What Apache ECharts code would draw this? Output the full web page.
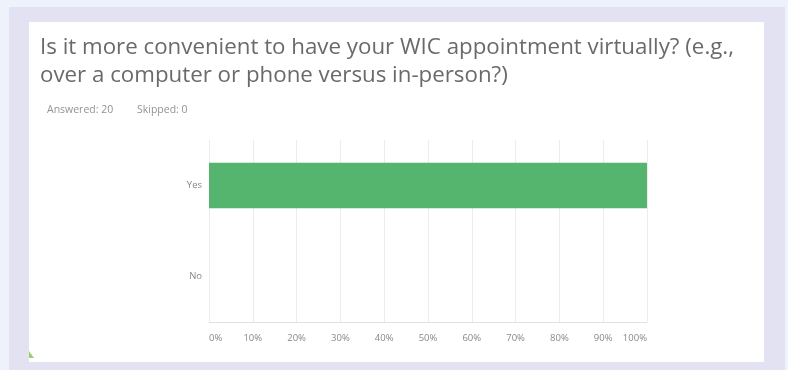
<!DOCTYPE html>
<html><head><meta charset="utf-8">
<script src="https://cdn.jsdelivr.net/npm/echarts@6/dist/echarts.min.js"></script>
<style>html,body{margin:0;padding:0;}#c{width:788px;height:370px;}</style>
</head><body><div id="c"></div>
<script>
const titleText = "Is it more convenient to have your WIC appointment virtually? (e.g.,\nover a computer or phone versus in-person?)";
const answeredText = "Answered: 20";
const skippedText = "Skipped: 0";
const categories = ["Yes", "No"];
const values = [100, 0];
const xTicks = [0, 10, 20, 30, 40, 50, 60, 70, 80, 90, 100];

const chart = echarts.init(document.getElementById('c'), null, {renderer: 'canvas'});
chart.setOption({
  backgroundColor: '#eef2fb',
  animation: false,
  graphic: [
    {type: 'rect', z: -10, shape: {x: 9, y: 7, width: 776, height: 370}, style: {fill: '#e3e2f3'}},
    {type: 'rect', z: -9, shape: {x: 29, y: 22, width: 735, height: 340}, style: {fill: '#ffffff'}},
    {type: 'polygon', z: -8, shape: {points: [[29, 351], [29, 358], [34, 358]]}, style: {fill: '#9ccf6a'}}
  ],
  title: [
    {text: titleText, left: 35, top: 29,
     textStyle: {fontFamily: 'Open Sans', fontSize: 22.3, fontWeight: 'normal', color: '#6a6a6a', lineHeight: 28}},
    {text: answeredText, left: 42, top: 100,
     textStyle: {fontFamily: 'Open Sans', fontSize: 10.5, fontWeight: 'normal', color: '#939393'}},
    {text: skippedText, left: 132, top: 100,
     textStyle: {fontFamily: 'Open Sans', fontSize: 10.5, fontWeight: 'normal', color: '#939393'}}
  ],
  grid: {left: 209, right: 141, top: 140, bottom: 48, containLabel: false},
  xAxis: {
    type: 'value', min: 0, max: 100, interval: 10,
    axisLine: {show: true, lineStyle: {color: '#e2e2e2'}},
    axisTick: {show: false},
    splitLine: {show: true, lineStyle: {color: '#ececec', width: 1}},
    axisLabel: {formatter: v => xTicks.includes(v) ? v + '%' : '', fontFamily: 'Open Sans', fontSize: 9.5, color: '#888',
      margin: 11, alignMinLabel: 'left', alignMaxLabel: 'right'}
  },
  yAxis: {
    type: 'category', data: categories, inverse: true,
    axisLine: {show: false}, axisTick: {show: false}, splitLine: {show: false},
    axisLabel: {fontFamily: 'Open Sans', fontSize: 9.5, color: '#888', margin: 7}
  },
  series: [{
    type: 'bar', data: values, barWidth: '50%',
    itemStyle: {color: '#55b46e'}
  }]
});
</script></body></html>
